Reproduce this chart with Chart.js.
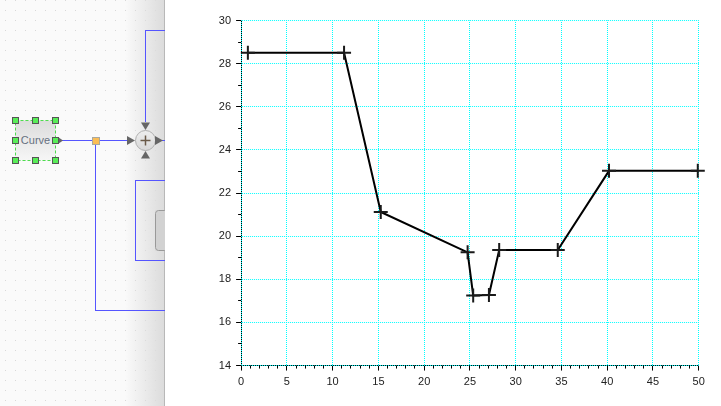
<!DOCTYPE html>
<html>
<head>
<meta charset="utf-8">
<title>Curve</title>
<script src="https://cdn.jsdelivr.net/npm/chart.js@4"></script>
<style>
  html, body { margin: 0; padding: 0; background: #fff; overflow: hidden; }
  #page { position: relative; width: 721px; height: 406px; }
  #diagram { position: absolute; left: 0; top: 0; }
  #plot { position: absolute; left: 165px; top: 0; width: 556px; height: 406px; }
</style>
</head>
<body>
<div id="page">
  <!-- block diagram behind the plot window -->
  <svg id="diagram" width="165" height="406" xmlns="http://www.w3.org/2000/svg">
    <defs>
      <pattern id="dots" width="10" height="10" patternUnits="userSpaceOnUse">
        <rect x="5" y="0" width="1" height="1" fill="#d8d8d8"/>
      </pattern>
      <linearGradient id="shade" x1="0" x2="1" y1="0" y2="0">
        <stop offset="0" stop-color="#dcdcdc" stop-opacity="0"/>
        <stop offset="1" stop-color="#dcdcdc"/>
      </linearGradient>
      <linearGradient id="blockFill" x1="0" x2="0" y1="0" y2="1">
        <stop offset="0" stop-color="#dcdcdc"/>
        <stop offset="1" stop-color="#f6f6f6"/>
      </linearGradient>
      <linearGradient id="sumFill" x1="0" x2="0" y1="0" y2="1">
        <stop offset="0" stop-color="#eeeeee"/>
        <stop offset="1" stop-color="#d8d8d8"/>
      </linearGradient>
    </defs>
    <rect width="165" height="406" fill="#fafafa"/>
    <rect width="165" height="406" fill="url(#dots)"/>
    <rect x="125" width="39" height="406" fill="url(#shade)"/>
    <rect x="164" width="1" height="406" fill="#b8b8b8"/>

    <g fill="none" stroke="#5555ff" stroke-width="1" shape-rendering="crispEdges">
      <path d="M164.5 30.5H145.5V122"/>
      <path d="M164.5 180.5H135.5V260.5H164.5"/>
      <path d="M60 140.5H128"/>
      <path d="M95.5 140.5V310.5H164.5"/>
      <path d="M158 140.5H164.5"/>
    </g>

    <rect x="155.5" y="210.5" width="12" height="40" rx="3" fill="#d2d2d2" stroke="#999"/>

    <circle cx="145.5" cy="140.5" r="10" fill="url(#sumFill)" stroke="#b0b0b0"/>
    <path d="M140.5 140.5H150.5" stroke="#6a5a48" stroke-width="1.5"/>
    <path d="M145.5 135.5V145.5" stroke="#6a5a48" stroke-width="1.5"/>
    <g fill="#666">
      <path d="M127 136L135 140.5L127 145Z"/>
      <path d="M155 136L163 140.5L155 145Z"/>
      <path d="M141 122.5H150L145.5 130Z"/>
      <path d="M145.5 151L150 158.5H141Z"/>
      <path d="M58 137L63 140.5L58 144Z"/>
    </g>

    <rect x="92.5" y="137.5" width="7" height="7" fill="#fbbd55" stroke="#a8a8a0"/>

    <rect x="15.5" y="120.5" width="40" height="40" fill="url(#blockFill)" stroke="#4fdc4f" stroke-dasharray="3 2"/>
    <text x="35.5" y="144" font-family="'Liberation Sans', Arial, sans-serif" font-size="11" fill="#667080" text-anchor="middle">Curve</text>
    <g fill="#58ee58" stroke="#555" stroke-width="1" shape-rendering="crispEdges">
      <rect x="12.5" y="117.5" width="6" height="6"/>
      <rect x="32.5" y="117.5" width="6" height="6"/>
      <rect x="52.5" y="117.5" width="6" height="6"/>
      <rect x="12.5" y="137.5" width="6" height="6"/>
      <rect x="52.5" y="137.5" width="6" height="6"/>
      <rect x="12.5" y="157.5" width="6" height="6"/>
      <rect x="32.5" y="157.5" width="6" height="6"/>
      <rect x="52.5" y="157.5" width="6" height="6"/>
    </g>
  </svg>

  <div id="plot"><canvas id="curveChart" width="556" height="406"></canvas></div>
</div>

<script>
  // Values
  const curveX = [0.74, 11.25, 15.26, 24.75, 25.36, 27.08, 28.2, 34.6, 40.2, 49.9];
  const curveY = [28.51, 28.51, 21.12, 19.25, 17.25, 17.27, 19.36, 19.36, 23.03, 23.03];
  const xRange = [0, 50];
  const yRange = [14, 30];
  const xMajorStep = 5;
  const yMajorStep = 2;
  const xMinorStep = 1;
  const yMinorStep = 1;

  // black axes under the dotted grid
  const axesUnderGrid = {
    id: 'axesUnderGrid',
    beforeDraw(chart) {
      const { ctx, chartArea: a } = chart;
      const left = Math.round(a.left - 0.5) + 0.5;
      const bottom = Math.round(a.bottom - 0.5) + 0.5;
      ctx.save();
      ctx.strokeStyle = '#000';
      ctx.lineWidth = 1;
      ctx.beginPath();
      ctx.moveTo(left, a.top);
      ctx.lineTo(left, bottom);
      ctx.lineTo(a.right, bottom);
      ctx.stroke();
      ctx.restore();
    }
  };

  // short tick marks between the labelled ones
  const minorTicks = {
    id: 'minorTicks',
    afterDraw(chart) {
      const { ctx, chartArea: a, scales } = chart;
      ctx.save();
      ctx.strokeStyle = '#000';
      ctx.lineWidth = 1;
      ctx.beginPath();
      for (let v = xRange[0]; v <= xRange[1]; v += xMinorStep) {
        if (v % xMajorStep === 0) continue;
        const px = Math.round(scales.x.getPixelForValue(v) - 0.5) + 0.5;
        ctx.moveTo(px, a.bottom);
        ctx.lineTo(px, a.bottom + 3);
      }
      for (let v = yRange[0]; v <= yRange[1]; v += yMinorStep) {
        if (v % yMajorStep === 0) continue;
        const py = Math.round(scales.y.getPixelForValue(v) - 0.5) + 0.5;
        ctx.moveTo(a.left, py);
        ctx.lineTo(a.left - 3, py);
      }
      ctx.stroke();
      ctx.restore();
    }
  };

  const gridOptions = {
    color: '#00ffff',
    lineWidth: 1,
    tickColor: '#000',
    tickLength: 5,
    tickBorderDash: []
  };
  const tickFont = { family: "'Liberation Sans', Arial, sans-serif", size: 11 };

  new Chart(document.getElementById('curveChart').getContext('2d'), {
    type: 'scatter',
    data: {
      datasets: [{
        data: curveX.map((x, i) => ({ x: x, y: curveY[i] })),
        showLine: true,
        borderColor: '#000',
        borderWidth: 2,
        tension: 0,
        clip: false,
        pointStyle: 'cross',
        pointRadius: 7,
        pointBorderColor: '#1a1a1a',
        pointBorderWidth: 2,
        pointBackgroundColor: '#1a1a1a'
      }]
    },
    options: {
      responsive: false,
      animation: false,
      layout: { padding: { left: 0.1, right: 22.3, top: 20.55, bottom: 0 } },
      plugins: { legend: { display: false }, tooltip: { enabled: false } },
      scales: {
        x: {
          type: 'linear',
          min: xRange[0],
          max: xRange[1],
          afterFit(scale) { scale.height = 40.45; },
          // offsets pull the dots back onto whole pixels
          border: { display: false, dash: [1, 1], dashOffset: 0.55 },
          grid: gridOptions,
          ticks: { stepSize: xMajorStep, color: '#222', font: tickFont, padding: 5, maxRotation: 0 }
        },
        y: {
          type: 'linear',
          min: yRange[0],
          max: yRange[1],
          afterFit(scale) { scale.width = 76; },
          border: { display: false, dash: [1, 1], dashOffset: 1.1 },
          grid: gridOptions,
          ticks: { stepSize: yMajorStep, color: '#222', font: tickFont, padding: 5 }
        }
      }
    },
    plugins: [axesUnderGrid, minorTicks]
  });
</script>
</body>
</html>
